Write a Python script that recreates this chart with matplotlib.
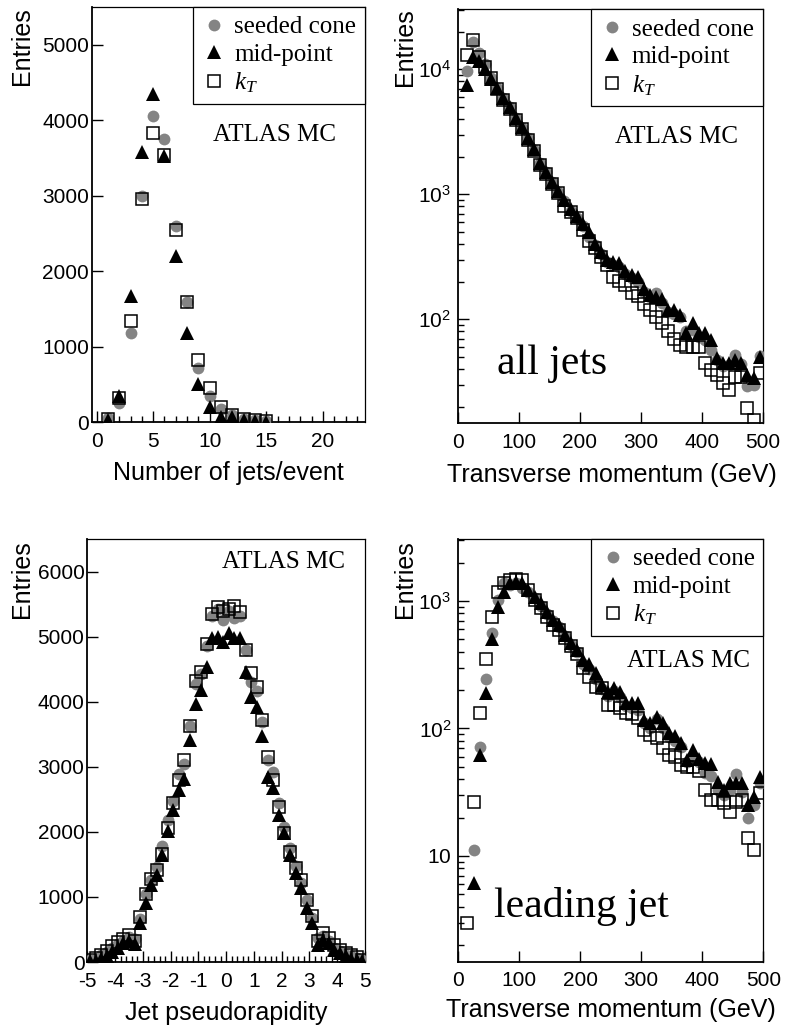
import numpy as np
import matplotlib
matplotlib.use('Agg')
import matplotlib.pyplot as plt
from matplotlib.ticker import MultipleLocator, FixedLocator, LogLocator, NullFormatter, FixedFormatter, NullLocator
from matplotlib.font_manager import FontProperties

plt.rcParams['font.family'] = ['Liberation Sans', 'DejaVu Sans']
plt.rcParams['mathtext.fontset'] = 'custom'
plt.rcParams['mathtext.rm'] = 'Liberation Serif'
plt.rcParams['mathtext.it'] = 'Liberation Serif:italic'
plt.rcParams['mathtext.sf'] = 'Liberation Sans'
plt.rcParams['axes.unicode_minus'] = False

# ---------------- data ----------------
# Panel 1: number of jets per event
njets = [1, 2, 3, 4, 5, 6, 7, 8, 9, 10, 11, 12, 13, 14, 15]
nj_seeded = [50, 250, 1180, 3000, 4055, 3750, 2600, 1590, 715, 340, 170, 90, 40, 20, 10]
nj_midpoint = [30, 340, 1665, 3580, 4350, 3520, 2200, 1185, 505, 195, 70, 65, 20, 10, 5]
nj_kt = [40, 315, 1345, 2950, 3830, 3545, 2550, 1590, 825, 450, 195, 90, 45, 25, 15]

# Panels 2 and 4: transverse momentum bin centres (GeV)
pt = [15, 25, 35, 45, 55, 65, 75, 85, 95, 105, 115, 125, 135, 145, 155, 165, 175,
      185, 195, 205, 215, 225, 235, 245, 255, 265, 275, 285, 295, 305, 315, 325,
      335, 345, 355, 365, 375, 385, 395, 405, 415, 425, 435, 445, 455, 465, 475,
      485, 495]

# Panel 2: all jets
all_seeded = [9750, 16600, 13400, 11000, 8500, 7100, 5900, 4950, 4050, 3400, 2800,
              2280, 1770, 1500, 1250, 1050, 880, 740, 650, 555, 458, 390, 335, 285,
              270, 262, 232, 212, 200, 165, 150, 161, 135, 115, 110, 104, 80, 82, 72,
              68, 57, 47, 42, 43, 52, 44, 29, 30, 51]
all_midpoint = [7480, 12600, 11700, 10000, 8310, 7050, 5860, 4966, 4055, 3436, 2806,
                2291, 1791, 1516, 1262, 1069, 899, 760, 670, 578, 502, 403, 347, 300,
                289, 281, 245, 226, 217, 174, 156, 152, 145, 119, 119, 108, 77, 93, 77,
                77, 68, 49, 44.5, 44.5, 47, 44.5, 35.8, 33.7, 50]
all_kt = [13000, 17150, 12500, 10500, 8500, 7000, 5700, 4800, 3900, 3300, 2700,
          2200, 1720, 1450, 1200, 1020, 800, 720, 640, 520, 425, 370, 313, 270,
          217, 204, 188, 161, 153, 133, 119, 105, 93, 80, 69, 62, 60, 60, 60,
          44.5, 39, 36, 30.7, 27, 34.8, 34.8, 19.4, 15.6, 37]

# Panel 3: jet pseudorapidity
eta = [-4.9, -4.7, -4.5, -4.3, -4.1, -3.9, -3.7, -3.5, -3.3, -3.1, -2.9, -2.7, -2.5,
       -2.3, -2.1, -1.9, -1.7, -1.5, -1.3, -1.1, -0.9, -0.7, -0.5, -0.3, -0.1,
       0.1, 0.3, 0.5, 0.7, 0.9, 1.1, 1.3, 1.5, 1.7, 1.9, 2.1, 2.3, 2.5, 2.7, 2.9,
       3.1, 3.3, 3.5, 3.7, 3.9, 4.1, 4.3, 4.5, 4.7, 4.9]
eta_seeded = [25, 50, 100, 150, 220, 270, 330, 380, 350, 668, 1043, 1258, 1462, 1779,
              2188, 2470, 2894, 3047, 3620, 4270, 4420, 4850, 5320, 5420, 5260,
              5400, 5290, 5320, 4790, 4300, 4170, 3690, 3100, 2920, 2437, 2080, 1748,
              1470, 1211, 956, 675, 368, 393, 317, 215, 164, 112, 87, 61, 36]
eta_midpoint = [10, 20, 40, 90, 160, 215, 290, 330, 270, 593, 900, 1181, 1334, 1641,
                2014, 2331, 2638, 2817, 3405, 3957, 4172, 4530, 4980, 5000, 4923,
                5051, 4980, 4975, 4463, 4069, 3916, 3471, 2850, 2667, 2258, 1978, 1645,
                1364, 1134, 828, 598, 266, 332, 291, 189, 138, 87, 46, 26, 10]
eta_kt = [30, 60, 110, 170, 240, 300, 360, 420, 320, 695, 1043, 1283, 1411, 1667,
          2065, 2443, 2791, 3098, 3625, 4325, 4463, 4888, 5348, 5450, 5399,
          5425, 5465, 5373, 4795, 4437, 4223, 3722, 3149, 2795, 2386, 1978, 1697,
          1441, 1262, 956, 700, 317, 445, 368, 266, 189, 138, 112, 77, 36]

# Panel 4: leading jet
lead_seeded = [np.nan, 11.1, 72, 243, 565, 1018, 1376, 1336, 1376, 1257, 1180, 1050,
               920, 790, 690, 620, 530, 455, 395, 320, 290, 245, 205, 180, 195, 175,
               150, 145, 140, 110, 100, 118, 100, 85, 80, 72, 55, 60, 55, 45, 42, 33,
               30, 33, 44, 32, 20, 25, 37]
lead_midpoint = [np.nan, 6.1, 62, 189, 504, 892, 1184, 1376, 1418, 1376, 1220, 1081,
                 959, 825, 709, 648, 541, 465, 413, 341, 321, 271, 219, 194, 207, 194,
                 158, 158, 158, 117, 110, 124, 110, 92, 87, 77, 57, 68, 58, 54, 53, 38,
                 33, 37, 37.6, 37.6, 25, 29, 41.7]
lead_kt = [2.97, 26.7, 133, 348, 745, 1184, 1392, 1462, 1480, 1462, 1220, 1018, 876,
           753, 648, 592, 510, 444, 382, 297, 255, 213, 207, 153, 153, 144, 131, 130,
           120, 97, 89, 84, 70, 62, 60, 52, 50, 50, 46, 33, 27.5, 27.5, 26, 22, 26.7,
           27.5, 13.8, 11.2, 31]

labels = ['seeded cone', 'mid-point', r'$k_T$']

# ---------------- figure ----------------
W, H = 787, 1033
fig = plt.figure(figsize=(W / 100, H / 100), dpi=100)

GRAY = '#848484'
SERIF = 'Liberation Serif'
TICK_FS = 15
LAB_FS = 18


def add_axes(l, r, t, b):
    return fig.add_axes([l / W, 1 - b / H, (r - l) / W, (b - t) / H])


def draw(ax, x, s, m, k):
    h1, = ax.plot(x, s, ls='none', marker='o', ms=8.5, mfc=GRAY, mec=GRAY, mew=0,
                  zorder=3, clip_on=True)
    h3, = ax.plot(x, k, ls='none', marker='s', ms=9, mfc='none', mec='black',
                  mew=1.1, zorder=4, clip_on=True)
    h2, = ax.plot(x, m, ls='none', marker='^', ms=9.5, color='black', mew=0,
                  zorder=5, clip_on=True)
    return [h1, h2, h3]


def style(ax, xpad=7, ypad=2):
    for side in ['left', 'bottom']:
        ax.spines[side].set_linewidth(1.3)
    for side in ['top', 'right']:
        ax.spines[side].set_linewidth(0.9)
    ax.tick_params(which='both', direction='in', top=False, right=False,
                   labelsize=TICK_FS, width=1.0)
    ax.tick_params(which='major', length=8)
    ax.tick_params(which='minor', length=4)
    ax.tick_params(axis='x', pad=xpad)
    ax.tick_params(axis='y', pad=ypad)


def legend(ax, handles):
    leg = ax.legend(handles, labels, loc='upper right', bbox_to_anchor=(1, 1),
                    borderaxespad=0, frameon=True, fancybox=False,
                    edgecolor='black', framealpha=1,
                    prop=FontProperties(family=SERIF, size=18),
                    handlelength=1.0, handletextpad=0.3, labelspacing=0.2,
                    borderpad=0.35)
    leg.get_frame().set_linewidth(0.9)
    return leg


def ylabel(x, top):
    fig.text(x / W, 1 - top / H, 'Entries', rotation=90, ha='center', va='top',
             fontsize=LAB_FS)


def xlabel(xc, yc, txt):
    fig.text(xc / W, 1 - yc / H, txt, ha='center', va='center', fontsize=LAB_FS)


# Panel 1
ax1 = add_axes(92, 365, 7, 422)
h = draw(ax1, njets, nj_seeded, nj_midpoint, nj_kt)
ax1.set_xlim(-0.4, 23.7)
ax1.set_ylim(0, 5500)
ax1.xaxis.set_major_locator(MultipleLocator(5))
ax1.xaxis.set_minor_locator(MultipleLocator(1))
ax1.yaxis.set_major_locator(MultipleLocator(1000))
ax1.yaxis.set_minor_locator(NullLocator())
style(ax1)
legend(ax1, h)
ax1.text(0.67, 0.692, 'ATLAS MC', transform=ax1.transAxes, ha='center',
         va='center', family=SERIF, fontsize=18)
ylabel(22, 7)
xlabel(228.5, 473, 'Number of jets/event')

# Panel 2
ax2 = add_axes(457.7, 762.7, 9.3, 423.3)
h = draw(ax2, pt, all_seeded, all_midpoint, all_kt)
ax2.set_yscale('log')
ax2.set_xlim(0, 500)
ax2.set_ylim(14.7, 30200)
ax2.xaxis.set_major_locator(MultipleLocator(100))
ax2.xaxis.set_minor_locator(NullLocator())
ax2.yaxis.set_major_locator(FixedLocator([100, 1000, 10000]))
ax2.yaxis.set_major_formatter(FixedFormatter([r'$\mathsf{10^{2}}$', r'$\mathsf{10^{3}}$',
                                              r'$\mathsf{10^{4}}$']))
ax2.yaxis.set_minor_locator(LogLocator(base=10, subs=np.arange(2, 10)))
ax2.yaxis.set_minor_formatter(NullFormatter())
style(ax2, ypad=5)
legend(ax2, h)
ax2.text(0.717, 0.692, 'ATLAS MC', transform=ax2.transAxes, ha='center',
         va='center', family=SERIF, fontsize=18)
ax2.text(0.309, 0.12, 'all jets', transform=ax2.transAxes, ha='center',
         va='baseline', family=SERIF, fontsize=30)
ylabel(405, 8)
xlabel(612, 475, 'Transverse momentum (GeV)')

# Panel 3
ax3 = add_axes(87.3, 365, 539, 962)
draw(ax3, eta, eta_seeded, eta_midpoint, eta_kt)
ax3.set_xlim(-5, 5)
ax3.set_ylim(0, 6500)
ax3.xaxis.set_major_locator(MultipleLocator(1))
ax3.xaxis.set_minor_locator(MultipleLocator(0.2))
ax3.yaxis.set_major_locator(MultipleLocator(1000))
ax3.yaxis.set_minor_locator(NullLocator())
style(ax3)
ax3.text(0.707, 0.946, 'ATLAS MC', transform=ax3.transAxes, ha='center',
         va='center', family=SERIF, fontsize=18)
ylabel(22, 540)
xlabel(226, 1013, 'Jet pseudorapidity')

# Panel 4
ax4 = add_axes(458.3, 763.3, 539, 961.7)
h = draw(ax4, pt, lead_seeded, lead_midpoint, lead_kt)
ax4.set_yscale('log')
ax4.set_xlim(0, 500)
ax4.set_ylim(1.48, 3060)
ax4.xaxis.set_major_locator(MultipleLocator(100))
ax4.xaxis.set_minor_locator(NullLocator())
ax4.yaxis.set_major_locator(FixedLocator([10, 100, 1000]))
ax4.yaxis.set_major_formatter(FixedFormatter([r'$\mathsf{10}$', r'$\mathsf{10^{2}}$',
                                              r'$\mathsf{10^{3}}$']))
ax4.yaxis.set_minor_locator(LogLocator(base=10, subs=np.arange(2, 10)))
ax4.yaxis.set_minor_formatter(NullFormatter())
style(ax4, ypad=5)
legend(ax4, h)
ax4.text(0.755, 0.712, 'ATLAS MC', transform=ax4.transAxes, ha='center',
         va='center', family=SERIF, fontsize=18)
ax4.text(0.405, 0.106, 'leading jet', transform=ax4.transAxes, ha='center',
         va='baseline', family=SERIF, fontsize=30)
ylabel(405, 540)
xlabel(611, 1010, 'Transverse momentum (GeV)')

fig.savefig('out.png', dpi=100)
